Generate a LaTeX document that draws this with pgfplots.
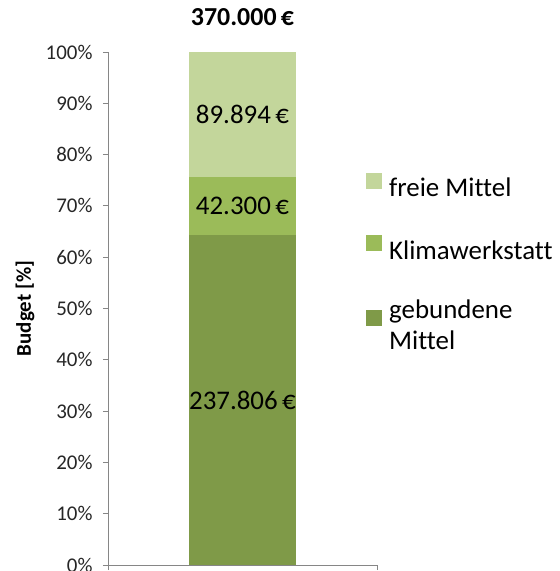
\documentclass[border=0pt]{standalone}
\usepackage{pgfplots}
\pgfplotsset{compat=1.18}
\usepackage{fontspec}
\setmainfont{Carlito}[Ligatures=NoCommon]
\definecolor{gDark}{HTML}{7F9A48}
\definecolor{gMid}{HTML}{9BBB59}
\definecolor{gLight}{HTML}{C3D69B}
\definecolor{axgray}{HTML}{868686}
\pgfplotsset{myframe/.style={at={(108bp,6bp)}, anchor=south west,
  scale only axis, width=269bp, height=513bp,
  xmin=-1, xmax=1, ymin=0, ymax=370000, scaled y ticks=false}}
\begin{document}
\begin{tikzpicture}
\useasboundingbox (0,0) rectangle (560bp,571bp);
\begin{axis}[
  myframe,
  ybar stacked, bar width=107bp,
  axis lines*=left,
  axis line style={axgray, line width=0.8bp},
  tick style={axgray, line width=0.8bp},
  major tick length=5bp, tick align=outside,
  xtick={-1,1}, xticklabels={},
  ytick={0,37000,74000,111000,148000,185000,222000,259000,296000,333000,370000},
  yticklabels={0\%,10\%,20\%,30\%,40\%,50\%,60\%,70\%,80\%,90\%,100\%},
  yticklabel style={font=\fontsize{21}{25}\selectfont, text=black!85, xshift=-7bp},
  title={370.000\,€},
  title style={font=\bfseries\fontsize{26}{30}\selectfont, at={(axis description cs:0.5,1)}, anchor=base, yshift=21bp},
  ylabel={Budget [\%]},
  ylabel style={font=\bfseries\fontsize{21}{25}\selectfont, at={(axis description cs:-0.3086,0.5)}, anchor=center},
  reverse legend,
  legend cell align=left,
  legend style={draw=none, fill=none, at={(axis description cs:0.959,0.765)}, anchor=north west,
    font=\fontsize{27}{31}\selectfont, row sep=35bp, inner sep=0pt,
    cells={align=left},
    nodes={inner sep=2bp}},
  legend image code/.code={\fill[#1] (0bp,-0.5bp) rectangle (16bp,15.5bp); \path (21bp,0);},
]
\addplot[fill=gDark, draw=none] coordinates {(0,237806)};
\addlegendentry{gebundene\\Mittel}
\addplot[fill=gMid, draw=none] coordinates {(0,42300)};
\addlegendentry{Klimawerkstatt}
\addplot[fill=gLight, draw=none] coordinates {(0,89894)};
\addlegendentry{freie Mittel}
\end{axis}
% value labels, centred in each segment
\begin{axis}[myframe, hide axis,
  every node near coord/.style={font=\fontsize{27}{32}\selectfont, text=black, anchor=center}]
\addplot[only marks, mark=none, point meta=explicit symbolic, nodes near coords]
  coordinates {(0,118903) [237.806\,€] (0,258956) [42.300\,€] (0,325053) [89.894\,€]};
\end{axis}
\end{tikzpicture}
\end{document}
